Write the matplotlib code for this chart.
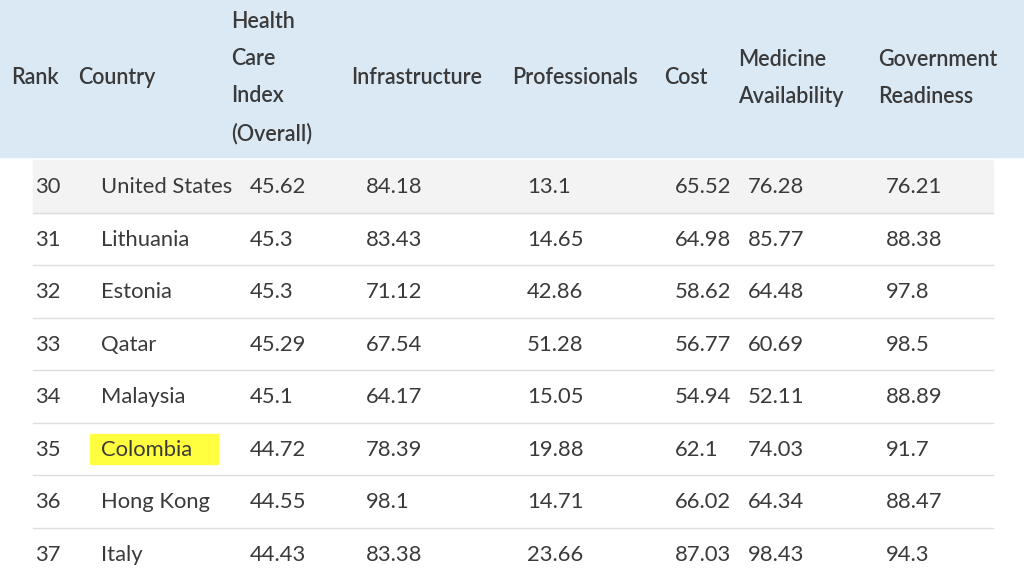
import matplotlib
matplotlib.use("Agg")
import matplotlib.pyplot as plt
from matplotlib.patches import Rectangle

headers = ["Rank", "Country", "Health\nCare\nIndex\n(Overall)", "Infrastructure", "Professionals",
           "Cost", "Medicine\nAvailability", "Government\nReadiness"]
ranks = ["30", "31", "32", "33", "34", "35", "36", "37"]
countries = ["United States", "Lithuania", "Estonia", "Qatar", "Malaysia", "Colombia", "Hong Kong", "Italy"]
hci = ["45.62", "45.3", "45.3", "45.29", "45.1", "44.72", "44.55", "44.43"]
infra = ["84.18", "83.43", "71.12", "67.54", "64.17", "78.39", "98.1", "83.38"]
prof = ["13.1", "14.65", "42.86", "51.28", "15.05", "19.88", "14.71", "23.66"]
cost = ["65.52", "64.98", "58.62", "56.77", "54.94", "62.1", "66.02", "87.03"]
med = ["76.28", "85.77", "64.48", "60.69", "52.11", "74.03", "64.34", "98.43"]
gov = ["76.21", "88.38", "97.8", "98.5", "88.89", "91.7", "88.47", "94.3"]
highlight = "Colombia"

fig = plt.figure(figsize=(10.24, 5.76), dpi=100)
ax = fig.add_axes([0, 0, 1, 1])
ax.set_xlim(0, 1024); ax.set_ylim(576, 0); ax.axis("off")
fam = ["Lato", "DejaVu Sans"]
tc = "#3a3a3a"

ax.add_patch(Rectangle((0, 0), 1024, 157, color="#dbe9f4", zorder=0))
hx = [11, 78, 231, 351, 512, 664, 738, 878]
for x, h in zip(hx, headers):
    ax.text(x, 78, h, ha="left", va="center", fontsize=15.5, color=tc, family=fam,
            linespacing=1.95, fontweight="semibold")

cx = [35, 101, 250, 366, 527, 675, 748, 886]
cols = [ranks, countries, hci, infra, prof, cost, med, gov]
y0, rh = 160, 52.5
for i in range(len(ranks)):
    top = y0 + i * rh
    if i == 0:
        ax.add_patch(Rectangle((33, top), 960, rh, color="#f3f3f3", zorder=0))
    ax.plot([33, 993], [top + rh, top + rh], color="#dddddd", lw=1)
    yc = top + rh / 2 + 1
    if countries[i] == highlight:
        ax.add_patch(Rectangle((90, yc - 16), 128, 30, color="#ffff40", zorder=0.5))
    for x, col in zip(cx, cols):
        ax.text(x, yc, col[i], ha="left", va="center", fontsize=15.8, color=tc, family=fam, zorder=2)

fig.savefig("out.png", dpi=100)
